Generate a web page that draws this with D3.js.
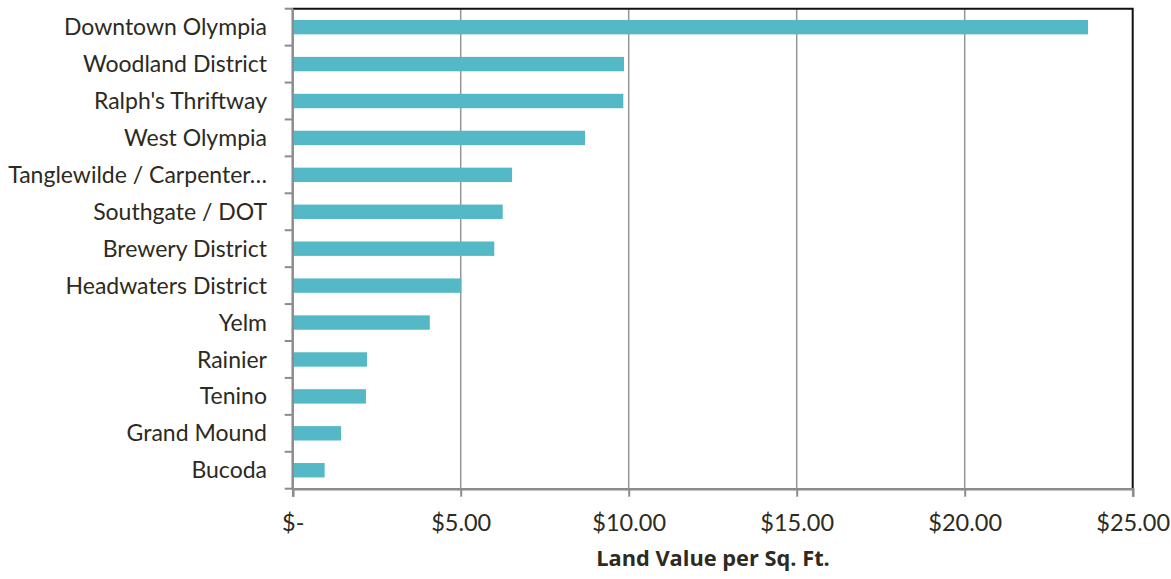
<!DOCTYPE html>
<html>
<head>
<meta charset="utf-8">
<script src="https://cdn.jsdelivr.net/npm/d3@7"></script>
<style>
  html, body { margin: 0; padding: 0; background: #fff; }
  svg { display: block; }
</style>
</head>
<body>
<svg id="chart" width="1171" height="579"></svg>
<script>
const categories = [
  "Downtown Olympia", "Woodland District", "Ralph's Thriftway", "West Olympia",
  "Tanglewilde / Carpenter\u2026", "Southgate / DOT", "Brewery District",
  "Headwaters District", "Yelm", "Rainier", "Tenino", "Grand Mound", "Bucoda"
];
const values = [23.67, 9.86, 9.84, 8.70, 6.53, 6.25, 6.00, 5.02, 4.08, 2.21, 2.18, 1.44, 0.95];
const xTicks = [0, 5, 10, 15, 20, 25];
const xTickLabels = ["$-", "$5.00", "$10.00", "$15.00", "$20.00", "$25.00"];
const axisTitle = "Land Value per Sq. Ft.";

(function () {
const svg = d3.select("#chart");
const pLeft = 292.7, pRight = 1132.7, pTop = 8.7, pBottom = 488.7;
const font = "Lato, 'Open Sans', sans-serif";
const textColor = "#2d2a22";
const axisColor = "#8c8c8c";

const x = d3.scaleLinear().domain([0, 25]).range([pLeft, pRight]);
const y = d3.scaleBand().domain(categories).range([pTop, pBottom]).paddingInner(0.61).paddingOuter(0.305);

// gridlines
svg.append("g").selectAll("line").data(xTicks.slice(1, -1)).join("line")
  .attr("x1", d => x(d)).attr("x2", d => x(d))
  .attr("y1", pTop).attr("y2", pBottom)
  .attr("stroke", "#959595").attr("stroke-width", 1.5);

// bars
svg.append("g").selectAll("rect").data(values).join("rect")
  .attr("x", x(0))
  .attr("y", (d, i) => y(categories[i]))
  .attr("width", d => x(d) - x(0))
  .attr("height", y.bandwidth())
  .attr("fill", "#55b8c7");

// top & right border (black)
svg.append("path")
  .attr("d", `M${pLeft},${pTop}H${pRight}V${pBottom}`)
  .attr("fill", "none").attr("stroke", "#111").attr("stroke-width", 2);

// x axis
const xAxis = d3.axisBottom(x).tickValues(xTicks).tickFormat((d, i) => xTickLabels[i]).tickSize(8).tickPadding(18);
const gx = svg.append("g").attr("transform", `translate(0,${pBottom})`).call(xAxis);
gx.select(".domain").attr("stroke", axisColor).attr("stroke-width", 2.5);
gx.selectAll(".tick line").attr("stroke", axisColor).attr("stroke-width", 2);
gx.selectAll(".tick text").attr("fill", textColor).style("font-family", font).style("font-size", "23.5px");

// y axis: ticks at band boundaries
const yAxisG = svg.append("g");
const step = (pBottom - pTop) / categories.length;
const bounds = d3.range(categories.length + 1).map(i => pTop + i * step);
yAxisG.selectAll("line").data(bounds).join("line")
  .attr("x1", pLeft - 8).attr("x2", pLeft)
  .attr("y1", d => d).attr("y2", d => d)
  .attr("stroke", axisColor).attr("stroke-width", 2);
yAxisG.append("line")
  .attr("x1", pLeft).attr("x2", pLeft).attr("y1", pTop).attr("y2", pBottom + 1)
  .attr("stroke", axisColor).attr("stroke-width", 2.5);
yAxisG.selectAll("text").data(categories).join("text")
  .attr("x", 267)
  .attr("y", d => y(d) + y.bandwidth() / 2)
  .attr("dy", "0.35em")
  .attr("text-anchor", "end")
  .attr("fill", textColor)
  .style("font-family", font).style("font-size", "23px")
  .text(d => d);

// axis title
svg.append("text")
  .attr("x", 713).attr("y", 566)
  .attr("text-anchor", "middle")
  .attr("fill", textColor)
  .style("font-family", "'Open Sans', Lato, sans-serif").style("font-size", "21.8px").style("font-weight", "bold")
  .text(axisTitle);
})();
</script>
</body>
</html>
